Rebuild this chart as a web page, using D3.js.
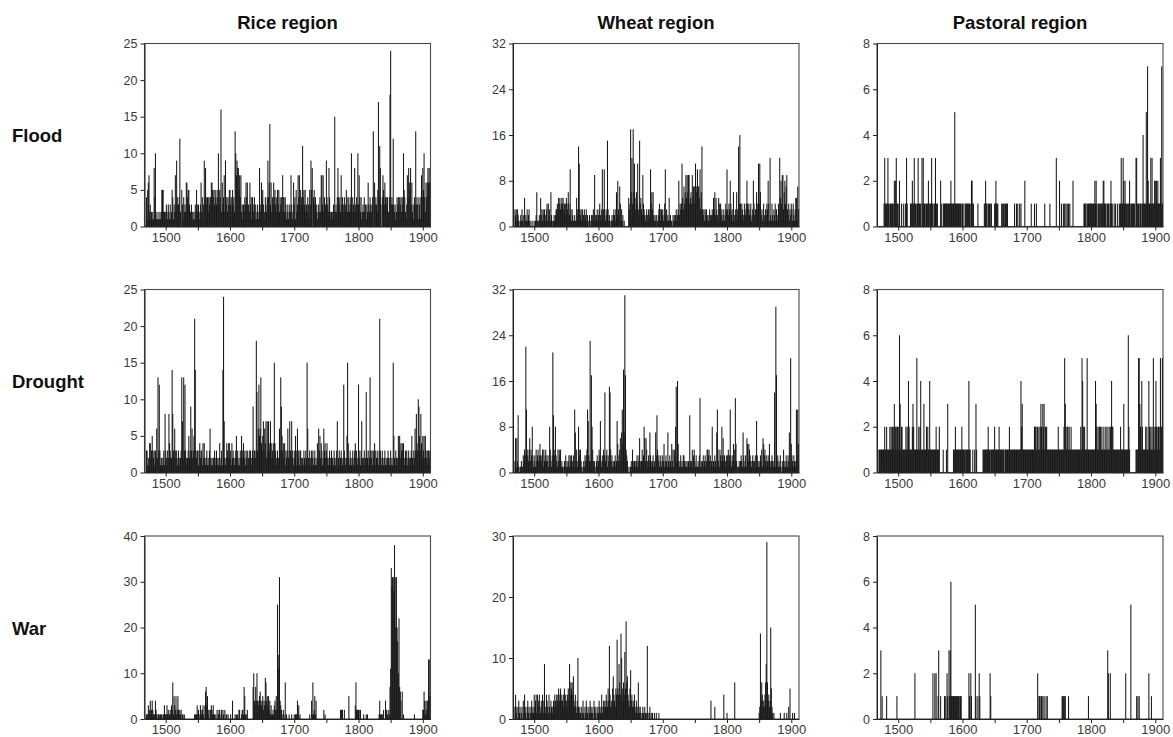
<!DOCTYPE html>
<html>
<head>
<meta charset="utf-8">
<script src="https://cdn.jsdelivr.net/npm/d3@7"></script>
<style>
  body { margin: 0; background: #fff; }
  svg { display: block; }
  .axis text { font-family: "Liberation Sans", Arial, Helvetica, sans-serif; fill: #3a3a3a; }
  .axis path, .axis line { stroke: #222; }
</style>
</head>
<body>
<div id="main_area"></div>
<script>
// annual counts, one value per year from firstYear on
var firstYear = 1470;

var columns = ["Rice region", "Wheat region", "Pastoral region"];
var rows = ["Flood", "Drought", "War"];

var riceFlood = [
  4,1,5,6,7,2,3,1,2,1, 2,1,8,4,10,2,1,1,2,1, 1,2,1,2,5,5,5,2,2,1, 2,3,2,1,3,2,1,3,1,2,
  5,4,1,3,2,7,3,9,4,3, 3,4,12,2,0,5,3,1,4,2, 3,2,6,6,4,5,5,3,2,2, 3,1,2,1,2,1,3,2,5,3,
  2,3,2,1,3,6,2,4,1,3, 9,4,8,4,3,4,2,4,3,4, 4,6,6,5,4,5,3,5,4,3, 5,4,10,3,5,4,16,2,6,3,
  4,7,2,9,3,4,2,4,3,5, 5,3,4,2,5,3,4,2,13,10, 7,9,8,8,5,7,4,7,2,3, 1,3,2,4,3,6,4,6,3,3,
  2,6,3,4,1,4,3,2,4,1, 3,1,2,3,1,2,8,3,2,6, 4,5,3,1,2,4,3,2,4,9, 4,6,14,3,6,2,4,3,6,4,
  5,3,4,2,5,3,5,2,4,3, 4,2,7,4,4,2,4,3,1,2, 3,1,2,3,2,7,3,1,2,6, 3,4,1,5,2,3,7,4,7,3,
  5,4,3,11,4,5,3,5,2,3, 2,4,3,1,5,3,9,5,8,0, 4,5,3,4,2,3,1,2,3,2, 4,2,7,7,3,7,2,4,3,3,
  9,4,3,2,8,4,2,1,2,1, 2,3,2,15,2,3,2,4,8,4, 3,4,2,7,3,4,2,3,4,2, 3,5,4,2,4,3,2,4,3,10,
  2,4,3,2,8,3,2,4,3,10, 3,7,4,2,4,1,2,3,2,4, 2,3,1,3,2,6,3,2,4,3, 2,3,4,13,0,6,3,4,3,2,
  5,17,4,11,8,3,0,4,7,5, 3,6,4,3,4,4,2,2,4,18, 24,3,4,3,12,3,2,3,1,2, 4,3,4,2,4,3,4,2,4,3,
  10,5,4,2,1,3,7,4,8,6, 5,8,3,6,2,3,1,4,3,13, 3,4,3,1,4,3,1,4,7,4, 8,5,10,4,2,6,4,6,8,6,
  8,6
];

var wheatFlood = [
  3,2,3,1,3,2,1,0,1,2, 1,3,1,2,0,5,1,2,1,3, 1,2,3,1,0,1,0,0,1,0, 0,1,1,2,6,1,0,1,2,1,
  5,2,3,1,3,2,3,1,2,3, 4,1,4,2,3,1,6,2,1,0, 1,2,1,2,3,3,4,3,5,4, 5,3,4,5,4,5,3,4,2,4,
  5,4,3,6,4,2,10,3,1,3, 2,1,1,2,1,1,5,3,2,14, 11,3,2,3,1,3,2,2,3,1, 2,3,1,2,0,1,2,1,0,2,
  1,2,3,1,9,2,1,2,3,1, 2,3,4,2,1,3,10,2,3,10, 3,1,2,3,15,3,1,2,1,0, 1,2,1,2,3,2,1,3,6,2,
  8,3,2,7,4,1,3,1,2,0, 1,0,0,0,0,0,0,5,3,4, 17,6,12,4,17,6,11,5,3,6, 4,11,3,2,15,4,5,3,2,9,
  4,3,2,1,2,3,2,1,3,2, 3,10,4,6,3,6,2,1,2,1, 2,0,1,2,3,4,3,1,3,2, 3,1,2,4,10,2,3,1,2,1,
  5,1,2,1,1,0,2,1,2,1, 2,3,1,2,3,8,2,4,3,4, 11,5,3,7,4,6,9,5,9,6, 9,9,4,5,6,4,9,5,7,7,
  4,11,6,7,10,7,7,5,10,3, 6,14,3,2,3,1,3,2,3,1, 2,1,2,3,2,1,2,3,2,5, 3,6,2,5,3,2,1,5,4,3,
  4,2,3,1,2,3,1,2,4,3, 10,3,2,4,3,8,4,2,3,1, 6,1,2,3,1,6,3,2,14,4, 16,4,2,4,3,1,2,4,3,2,
  4,8,4,3,4,2,3,4,1,2, 3,8,4,2,3,3,6,4,3,11, 4,11,6,3,2,1,3,4,2,1, 3,2,4,3,8,4,1,12,2,1,
  4,2,1,3,2,4,1,3,2,1, 4,3,12,5,8,4,9,9,3,6, 8,4,7,9,3,2,4,1,3,2, 4,3,1,4,2,1,3,5,5,1,
  7,3
];

var pastoralFlood = [
  0,0,0,0,0,0,0,0,1,3, 1,1,1,1,3,1,0,1,1,1, 1,1,0,1,2,1,2,3,1,1, 0,1,2,0,0,1,0,0,1,0,
  0,1,1,3,1,0,0,0,0,1, 1,1,2,1,1,3,1,1,1,0, 1,3,1,1,1,1,0,3,1,3, 1,1,1,0,1,1,1,2,0,1,
  1,1,3,1,1,0,1,1,3,1, 1,1,0,0,0,0,2,1,0,0, 1,1,1,1,1,1,1,1,1,1, 1,1,2,1,1,1,1,1,5,1,
  1,1,1,1,1,1,1,1,0,1, 1,1,0,0,1,1,1,1,1,1, 1,1,0,1,2,2,1,1,0,0, 0,0,0,0,1,0,0,0,0,0,
  0,0,0,0,1,1,2,1,1,0, 1,1,1,0,1,1,0,0,0,0, 1,1,2,1,1,1,0,0,0,0, 0,1,1,0,1,1,0,1,1,1,
  1,0,0,0,0,0,0,0,0,0, 0,1,0,0,1,0,1,0,0,1, 0,1,0,0,0,0,0,2,0,0, 0,0,0,0,0,0,0,1,0,0,
  0,0,1,0,0,1,0,0,0,0, 0,0,0,0,0,0,0,0,1,0, 0,0,0,0,0,0,1,0,0,0, 0,0,0,0,0,0,3,0,0,0,
  0,2,0,0,1,0,0,1,0,1, 0,1,0,1,0,1,0,1,0,0, 0,0,2,0,0,0,0,0,0,0, 0,0,0,0,0,0,0,0,0,1,
  1,1,1,0,1,1,1,1,1,1, 1,1,1,1,1,1,2,1,2,1, 0,1,1,1,0,1,1,1,1,2, 2,1,1,1,0,1,1,1,1,0,
  1,2,1,1,0,0,1,0,1,0, 0,1,0,0,1,1,1,3,1,1, 3,2,1,2,1,1,0,1,1,1, 2,1,0,1,1,1,1,1,1,0,
  3,3,1,1,1,0,1,1,1,0, 1,4,1,1,1,1,5,1,7,2, 1,1,1,3,1,3,1,1,1,2, 2,1,2,1,2,1,1,1,3,1,
  7,1
];

var riceDrought = [
  3,3,1,2,1,4,4,2,3,5, 3,2,3,1,3,2,6,2,13,3, 12,3,1,2,2,1,2,3,1,8, 3,2,1,3,2,8,4,3,2,2,
  14,8,3,2,6,3,2,3,1,2, 3,2,1,2,3,13,7,2,13,3, 12,3,2,1,2,3,5,2,3,9, 3,6,2,3,5,21,14,3,2,3,
  3,1,3,4,2,3,3,1,4,2, 4,2,1,2,3,1,2,1,3,6, 2,1,2,1,2,2,3,1,2,3, 1,2,1,2,4,1,2,3,1,14,
  24,7,2,1,2,4,3,2,4,4, 2,3,1,4,2,3,2,1,2,3, 5,2,3,1,2,1,3,2,5,3, 2,4,3,2,1,3,2,3,1,2,
  3,2,3,1,2,3,9,2,3,3, 2,18,11,3,6,12,5,6,13,4, 3,5,7,3,6,4,7,2,7,3, 7,4,3,7,2,4,3,2,4,15,
  4,3,2,1,3,2,2,6,3,13, 9,5,3,4,2,4,1,3,2,3, 6,2,3,7,3,2,7,3,2,1, 3,2,5,1,3,6,2,3,1,3,
  3,2,1,2,1,3,2,1,3,2, 15,6,2,1,3,2,1,3,2,3, 1,2,3,1,2,1,4,2,6,3, 5,2,4,3,1,2,6,3,4,2,
  3,4,2,1,2,3,2,1,3,2, 2,1,3,2,1,2,3,7,1,2, 3,1,2,3,2,1,2,12,3,2, 1,2,5,15,4,2,1,3,2,1,
  2,3,1,2,3,4,2,3,1,2, 12,3,2,1,3,7,2,1,2,3, 1,2,11,3,2,1,3,2,13,3, 2,3,1,3,2,4,3,1,2,3,
  2,1,3,21,3,2,1,3,2,1, 2,3,1,2,1,2,3,2,1,2, 3,1,2,1,15,5,2,1,3,2, 1,2,5,3,5,2,4,3,4,3,
  4,2,1,3,2,3,1,2,3,2, 1,2,3,5,2,1,3,2,6,3, 8,4,3,10,9,5,3,8,4,2, 5,3,5,2,5,3,2,3,1,3,
  2,3
];

var wheatDrought = [
  2,6,1,6,2,10,1,0,1,1, 2,1,1,3,2,4,3,22,11,4, 3,2,4,6,2,4,3,8,3,1, 2,3,1,4,2,3,4,2,3,5,
  3,2,3,4,1,4,2,3,4,2, 3,2,1,3,8,4,2,1,3,21, 10,4,3,8,3,2,1,4,2,4, 3,4,1,2,1,0,1,2,1,3,
  1,2,1,2,3,1,3,2,3,1, 2,3,1,11,7,2,4,1,2,8, 4,3,4,2,1,0,1,2,1,3, 2,3,4,11,9,3,2,23,2,17,
  8,4,2,1,2,0,1,2,3,1, 2,4,3,9,2,1,3,2,4,3, 14,2,3,4,1,3,2,15,14,4, 2,3,1,2,1,2,3,1,2,9,
  5,2,3,4,6,2,7,11,5,18, 7,31,17,4,3,2,1,0,0,1, 1,2,1,4,2,1,2,2,1,2, 3,1,2,3,6,2,1,2,4,2,
  3,8,6,2,6,4,2,1,3,2, 7,3,2,1,2,3,1,2,1,7, 3,10,4,2,3,1,2,3,1,2, 3,2,5,1,2,3,2,1,7,2,
  1,3,2,1,5,2,4,1,4,3, 8,15,2,16,5,2,1,2,3,1, 2,1,3,3,2,1,2,1,2,1, 2,1,10,2,1,2,4,1,3,4,
  2,1,3,1,1,2,1,3,13,1, 2,1,2,3,1,2,3,1,2,4, 4,3,4,2,3,1,2,8,1,2, 1,3,2,1,7,11,4,2,1,4,
  3,2,8,3,6,2,3,1,2,3, 2,3,4,2,3,11,3,1,2,3, 5,2,4,13,5,2,1,0,1,2, 1,2,3,2,1,7,3,1,2,3,
  1,6,5,2,5,4,3,2,1,2, 3,2,1,2,3,1,9,3,2,1, 2,1,3,2,4,1,6,5,3,4, 2,3,1,2,3,2,5,2,1,2,
  3,2,1,2,14,1,29,17,2,3, 1,2,1,3,1,0,2,1,4,1, 2,1,3,2,1,3,2,7,1,20, 5,3,2,1,3,2,1,2,11,3,
  11,5
];

var pastoralDrought = [
  1,1,1,1,1,1,1,1,1,2, 1,1,2,1,1,1,1,2,1,2, 1,2,1,2,3,1,2,2,1,2, 2,1,6,3,1,2,2,1,1,1,
  1,1,2,1,2,1,4,2,1,1, 1,1,2,3,2,1,1,1,1,5, 1,1,2,1,2,4,1,1,1,1, 3,1,1,1,2,1,2,1,1,4,
  1,1,1,1,1,1,1,1,1,2, 1,1,1,1,2,0,0,0,0,0, 1,0,0,0,0,1,0,3,0,0, 0,0,0,0,0,0,1,1,1,2,
  1,1,1,1,1,1,1,1,1,2, 1,1,1,1,0,1,1,1,1,1, 4,1,1,0,0,0,1,0,0,1, 0,3,1,0,0,0,0,0,0,0,
  0,0,1,1,1,1,1,1,1,1, 2,1,1,0,1,1,1,1,1,1, 2,1,1,1,1,1,1,2,1,1, 1,1,1,1,1,0,1,1,1,1,
  1,1,1,2,1,1,1,1,1,1, 1,1,1,1,1,1,1,1,1,1, 1,4,2,3,1,1,1,1,1,1, 1,1,1,1,1,1,1,1,1,1,
  1,1,2,2,2,1,2,2,1,2, 1,2,3,2,1,3,2,3,1,2, 2,2,1,1,1,1,1,1,1,1, 1,1,1,1,1,1,1,1,1,2,
  1,1,1,1,1,1,1,1,2,5, 3,2,1,2,2,1,2,1,1,2, 1,1,1,1,1,1,1,1,1,1, 1,1,1,1,2,1,5,4,2,1,
  2,1,1,1,5,1,1,1,1,1, 1,1,1,1,1,1,1,4,3,2, 1,2,1,2,2,2,1,2,1,1, 2,1,1,2,1,2,1,1,2,1,
  2,2,4,2,2,1,1,1,1,1, 1,1,1,1,1,1,2,1,1,1, 1,3,1,1,1,1,1,1,6,2, 1,0,0,0,0,0,0,0,0,0,
  1,1,1,1,5,5,3,2,1,4, 2,1,1,1,1,2,1,2,1,1, 4,2,1,2,1,2,1,5,2,1, 2,4,2,1,2,2,1,2,5,2,
  2,5
];

var riceWar = [
  1,1,1,3,1,2,4,1,2,4, 2,1,1,1,4,2,1,0,1,1, 1,0,1,1,1,0,1,1,3,1, 1,1,3,1,2,1,1,2,1,3,
  2,8,1,5,3,2,5,1,2,5, 2,1,2,1,2,0,1,1,0,1, 0,0,0,0,0,0,0,0,0,0, 0,0,0,0,0,1,1,1,1,3,
  1,2,1,0,3,2,1,2,3,1, 0,3,6,7,3,5,1,2,0,2, 2,3,2,1,3,1,1,0,1,0, 2,0,1,2,2,0,1,2,0,2,
  1,0,2,0,1,1,0,1,0,0, 0,1,0,0,4,0,0,0,1,0, 1,0,1,0,2,2,0,0,1,2, 2,1,7,5,1,0,1,2,0,0,
  0,0,0,0,0,0,7,10,4,3, 7,4,10,4,3,4,5,6,4,3, 4,5,2,4,3,9,8,4,5,3, 5,2,4,1,3,1,1,2,1,3,
  4,2,5,2,25,14,11,31,4,3, 2,1,0,2,1,0,8,0,1,0, 0,0,1,0,0,0,1,0,0,0, 1,0,1,1,1,4,1,3,0,1,
  0,0,0,0,0,0,0,0,0,0, 0,0,0,0,1,0,0,4,1,8, 1,2,5,1,4,0,0,0,0,0, 0,0,0,0,0,0,2,0,1,0,
  0,0,0,0,0,0,0,0,0,0, 0,0,0,0,0,0,0,0,0,0, 0,0,2,2,2,2,0,0,2,0, 0,0,0,0,0,5,0,0,0,0,
  0,0,0,0,0,3,8,2,2,2, 2,2,0,2,0,0,0,0,1,0, 0,0,1,0,1,0,0,0,0,0, 0,0,0,0,0,0,0,0,0,0,
  0,0,1,4,1,1,1,1,0,2, 0,0,4,2,2,1,0,2,1,7, 11,33,29,31,31,28,38,31,20,31, 20,17,10,22,7,6,4,0,6,0,
  1,0,0,0,0,0,0,0,0,0, 0,0,0,0,0,0,0,1,0,0, 0,0,0,0,0,0,0,0,0,0, 2,2,6,4,1,4,2,4,4,13,
  13,5
];

var wheatWar = [
  2,4,1,2,0,2,3,1,2,0, 1,2,0,3,1,4,2,1,0,2, 3,1,2,0,1,2,3,1,2,1, 4,2,3,4,1,4,2,3,4,2,
  1,3,2,4,1,3,9,2,1,4, 3,2,1,4,2,1,3,2,1,2, 3,2,4,3,2,4,3,4,5,3, 4,5,3,4,3,2,4,5,3,4,
  3,2,4,5,3,9,4,6,5,6, 4,7,3,2,4,2,1,3,10,2, 1,2,1,0,2,1,3,1,0,2, 1,3,2,1,0,2,1,3,2,1,
  2,1,0,3,2,1,2,0,1,2, 1,3,2,1,2,4,1,2,3,2, 3,2,4,3,2,5,3,12,4,2, 3,2,5,7,4,3,2,5,4,13,
  5,4,9,6,4,14,10,5,3,6, 4,11,5,16,6,7,4,3,2,5, 8,3,4,2,3,2,4,2,1,3, 2,1,6,2,1,2,1,0,1,2,
  1,0,2,1,0,1,12,1,0,1, 2,0,1,0,1,0,0,1,0,0, 1,0,0,0,1,0,0,0,0,0, 0,0,0,0,0,0,0,0,0,0,
  0,0,0,0,0,0,0,0,0,0, 0,0,0,0,0,0,0,0,0,0, 0,0,0,0,0,0,0,0,0,0, 0,0,0,0,0,0,0,0,0,0,
  0,0,0,0,0,0,0,0,0,0, 0,0,0,0,0,0,0,0,0,0, 0,0,0,0,0,3,0,0,0,0, 0,2,0,0,0,0,0,0,0,0,
  0,0,0,0,0,4,0,0,0,0, 1,0,0,0,0,0,0,0,0,0, 0,0,6,0,0,0,0,0,0,0, 0,0,0,0,0,0,0,0,0,0,
  0,0,0,0,0,0,0,0,0,0, 0,0,0,0,0,0,0,0,0,0, 1,2,14,3,6,4,2,3,2,4, 6,9,29,6,3,4,2,3,15,5,
  2,1,0,1,0,0,0,0,0,0, 0,0,0,1,0,0,0,0,0,1, 0,0,0,1,0,0,2,0,5,0, 0,0,1,0,0,1,0,0,0,0,
  0,0
];

var pastoralWar = [
  0,0,0,3,0,1,0,0,0,0, 0,0,1,0,0,0,0,0,0,0, 0,0,0,0,0,0,0,0,1,0, 0,0,0,0,0,0,0,0,0,0,
  0,0,0,0,0,0,0,0,0,0, 0,0,0,0,0,0,2,0,0,0, 0,0,0,0,0,0,0,0,0,0, 0,0,0,0,0,0,0,0,0,0,
  0,0,0,0,2,0,0,2,0,2, 0,0,1,3,0,0,1,0,0,0, 0,0,1,0,1,0,2,1,0,3, 1,3,6,1,1,1,1,1,1,1,
  1,1,1,1,1,1,0,1,1,0, 0,0,0,0,0,0,0,0,0,0, 2,1,0,2,1,0,0,0,0,0, 5,1,0,0,1,0,2,1,0,0,
  0,0,0,0,0,0,0,0,0,0, 0,0,0,2,1,0,0,0,0,0, 0,0,0,0,0,0,0,0,0,0, 0,0,0,0,0,0,0,0,0,0,
  0,0,0,0,0,0,0,0,0,0, 0,0,0,0,0,0,0,0,0,0, 0,0,0,0,0,0,0,0,0,0, 0,0,0,0,0,0,0,0,0,0,
  0,0,0,0,0,0,0,2,0,1, 1,0,1,1,0,1,0,1,0,0, 1,0,1,0,0,0,0,0,0,0, 0,0,0,0,0,0,0,0,0,0,
  0,0,0,0,0,1,1,1,0,1, 1,0,0,0,0,1,0,0,0,0, 0,0,0,0,0,0,0,0,0,0, 0,0,0,0,0,0,0,0,0,0,
  0,0,0,0,0,0,1,0,0,0, 0,0,0,0,0,0,0,0,0,0, 0,0,0,0,0,0,0,0,0,0, 0,0,0,0,0,0,3,2,0,0,
  2,0,0,0,0,0,0,0,0,0, 0,0,0,0,0,0,0,0,0,0, 0,0,0,0,2,0,0,0,0,0, 0,0,5,0,0,0,0,0,0,0,
  0,1,0,1,0,1,0,0,0,0, 0,0,0,0,0,0,0,0,0,0, 2,0,0,0,1,0,0,0,0,0, 0,0,0,0,0,0,0,0,0,0,
  0,0
];

// y tick values per panel, x ticks every 50 years, labels every 100
var yTicksFlood = [[0, 5, 10, 15, 20, 25], [0, 8, 16, 24, 32], [0, 2, 4, 6, 8]];
var yTicksDrought = [[0, 5, 10, 15, 20, 25], [0, 8, 16, 24, 32], [0, 2, 4, 6, 8]];
var yTicksWar = [[0, 10, 20, 30, 40], [0, 10, 20, 30], [0, 2, 4, 6, 8]];
var xTicks = [1500, 1550, 1600, 1650, 1700, 1750, 1800, 1850, 1900];
var xTickLabels = [1500, 1600, 1700, 1800, 1900];

var series = [
    [riceFlood, wheatFlood, pastoralFlood],
    [riceDrought, wheatDrought, pastoralDrought],
    [riceWar, wheatWar, pastoralWar]
];
var yTicks = [yTicksFlood, yTicksDrought, yTicksWar];

var fontFamily = '"Liberation Sans", Arial, Helvetica, sans-serif';
var panelW = 286, panelH = 183;
var colLeft = [144.5, 513, 877];
var rowTop = [43.5, 289.5, 536];

var svg = d3.select("div#main_area")
    .append("svg")
    .attr("width", 1173)
    .attr("height", 737);

var xScale = d3.scaleLinear()
    .domain([1467, 1912])
    .range([0, panelW]);
var barW = xScale(1) - xScale(0);

// 列标题
svg.selectAll("text.col-title")
    .data(columns)
    .enter()
    .append("text")
    .attr("class", "col-title")
    .attr("x", function (d, i) { return colLeft[i] + panelW / 2; })
    .attr("y", 29)
    .attr("text-anchor", "middle")
    .attr("font-family", fontFamily)
    .attr("font-weight", "bold")
    .attr("font-size", 18.5)
    .attr("fill", "#111")
    .text(function (d) { return d; });

// 行标题
svg.selectAll("text.row-title")
    .data(rows)
    .enter()
    .append("text")
    .attr("class", "row-title")
    .attr("x", 12)
    .attr("y", function (d, i) { return rowTop[i] + panelH / 2 + 7; })
    .attr("font-family", fontFamily)
    .attr("font-weight", "bold")
    .attr("font-size", 18.5)
    .attr("fill", "#111")
    .text(function (d) { return d; });

rows.forEach(function (rowName, r) {
    columns.forEach(function (colName, c) {
        var values = series[r][c];
        var ticks = yTicks[r][c];
        var yScale = d3.scaleLinear()
            .domain([0, ticks[ticks.length - 1]])
            .range([panelH, 0]);

        var g = svg.append("g")
            .attr("transform", "translate(" + colLeft[c] + "," + rowTop[r] + ")");

        // frame
        g.append("rect")
            .attr("width", panelW)
            .attr("height", panelH)
            .attr("fill", "none")
            .attr("stroke", "#4a4a4a")
            .attr("stroke-width", 1.1);

        // bars, one per year
        var bars = values.map(function (v, i) {
            return {year: firstYear + i, value: v};
        }).filter(function (d) { return d.value > 0; });

        g.append("g")
            .selectAll("rect")
            .data(bars)
            .enter()
            .append("rect")
            .attr("x", function (d) { return xScale(d.year - 0.5) - 0.2; })
            .attr("y", function (d) { return yScale(d.value); })
            .attr("width", barW + 0.4)
            .attr("height", function (d) { return panelH - yScale(d.value); })
            .attr("fill", "#181818");

        // y axis
        g.append("g")
            .attr("class", "axis")
            .call(d3.axisLeft(yScale).tickValues(ticks).tickSize(4).tickSizeOuter(0).tickPadding(3))
            .selectAll("text")
            .attr("font-size", 12.5);

        // x axis
        g.append("g")
            .attr("class", "axis")
            .attr("transform", "translate(0," + panelH + ")")
            .call(d3.axisBottom(xScale)
                .tickValues(xTicks)
                .tickSize(4)
                .tickSizeOuter(0)
                .tickPadding(2)
                .tickFormat(function (d) { return xTickLabels.indexOf(d) >= 0 ? d : ""; }))
            .selectAll("text")
            .attr("font-size", 13);
    });
});
</script>
</body>
</html>
